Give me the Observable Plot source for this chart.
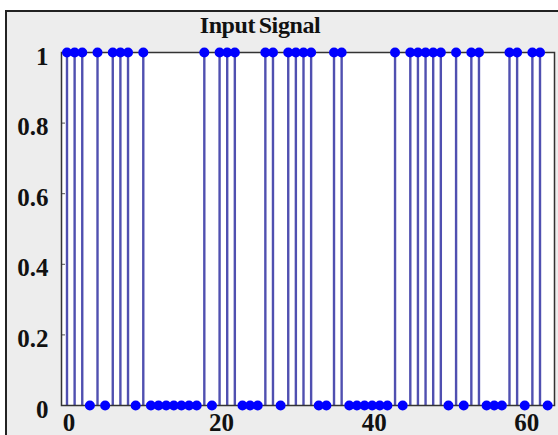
<!DOCTYPE html>
<html><head><meta charset="utf-8">
<script src="https://cdn.jsdelivr.net/npm/d3@7"></script>
<script src="https://cdn.jsdelivr.net/npm/@observablehq/plot@0.6"></script>
<style>
html,body{margin:0;padding:0;background:#fff;}
#wrap{position:relative;width:558px;height:435px;overflow:hidden;}
#fig{position:absolute;left:5px;top:10px;width:560px;height:440px;background:#ededed;border-left:2px solid #222;border-top:2px solid #222;box-sizing:border-box;}
#chart{position:absolute;left:0;top:0;}
#title{position:absolute;left:0;top:12px;width:520px;text-align:center;font-family:'Liberation Serif',serif;font-weight:bold;font-size:24px;letter-spacing:-0.4px;word-spacing:-2px;color:#111;}
</style></head><body>
<div id="wrap"><div id="fig"></div><div id="chart"></div><div id="title"></div></div>
<script>
const title = "Input Signal";
// binary input signal, samples 0..63
const signal = [
  1,1,1,0,1,0,1,1,1,0,
  1,0,0,0,0,0,0,0,1,0,
  1,1,1,0,0,0,1,1,0,1,
  1,1,1,0,0,1,1,0,0,0,
  0,0,0,1,0,1,1,1,1,1,
  0,1,0,1,1,0,0,0,1,1,
  0,1,1,0
];
const xTicks = [0, 20, 40, 60];
const xTickLabels = ["0", "20", "40", "60"];
const yTicks = [0, 0.2, 0.4, 0.6, 0.8, 1];
const yTickLabels = ["0", "0.2", "0.4", "0.6", "0.8", "1"];

const data = signal.map((v, i) => ({n: i, v}));
document.getElementById("title").textContent = title;

const chart = Plot.plot({
  width: 558, height: 435,
  marginLeft: 61, marginRight: 4, marginTop: 52, marginBottom: 30,
  style: {background: "transparent", fontFamily: "'Liberation Serif', serif", fontWeight: "bold", fontSize: "25px", color: "#111"},
  x: {domain: [-0.72, 63.9]},
  y: {domain: [0, 1]},
  marks: [
    Plot.frame({fill: "white"}),
    Plot.axisY(yTicks, {label: null, tickSize: 0, tickPadding: 13, dy: 4, tickFormat: d => yTickLabels[yTicks.indexOf(d)]}),
    Plot.axisY(yTicks, {label: null, tickSize: -4, tickFormat: () => "", stroke: "#555"}),
    Plot.axisX(xTicks, {label: null, tickSize: 0, tickPadding: 8, dx: 2, tickFormat: d => xTickLabels[xTicks.indexOf(d)]}),
    Plot.axisX(xTicks, {label: null, tickSize: -4, tickFormat: () => "", stroke: "#555"}),
    Plot.ruleX(data, {x: "n", y1: 0, y2: "v", stroke: "#5050b0", strokeWidth: 2.4}),
    Plot.frame({stroke: "#333", strokeWidth: 1.5}),
    Plot.dot(data, {x: "n", y: "v", r: 5, fill: "#0000ff", stroke: "none"})
  ]
});
document.getElementById("chart").appendChild(chart);
</script>
</body></html>
